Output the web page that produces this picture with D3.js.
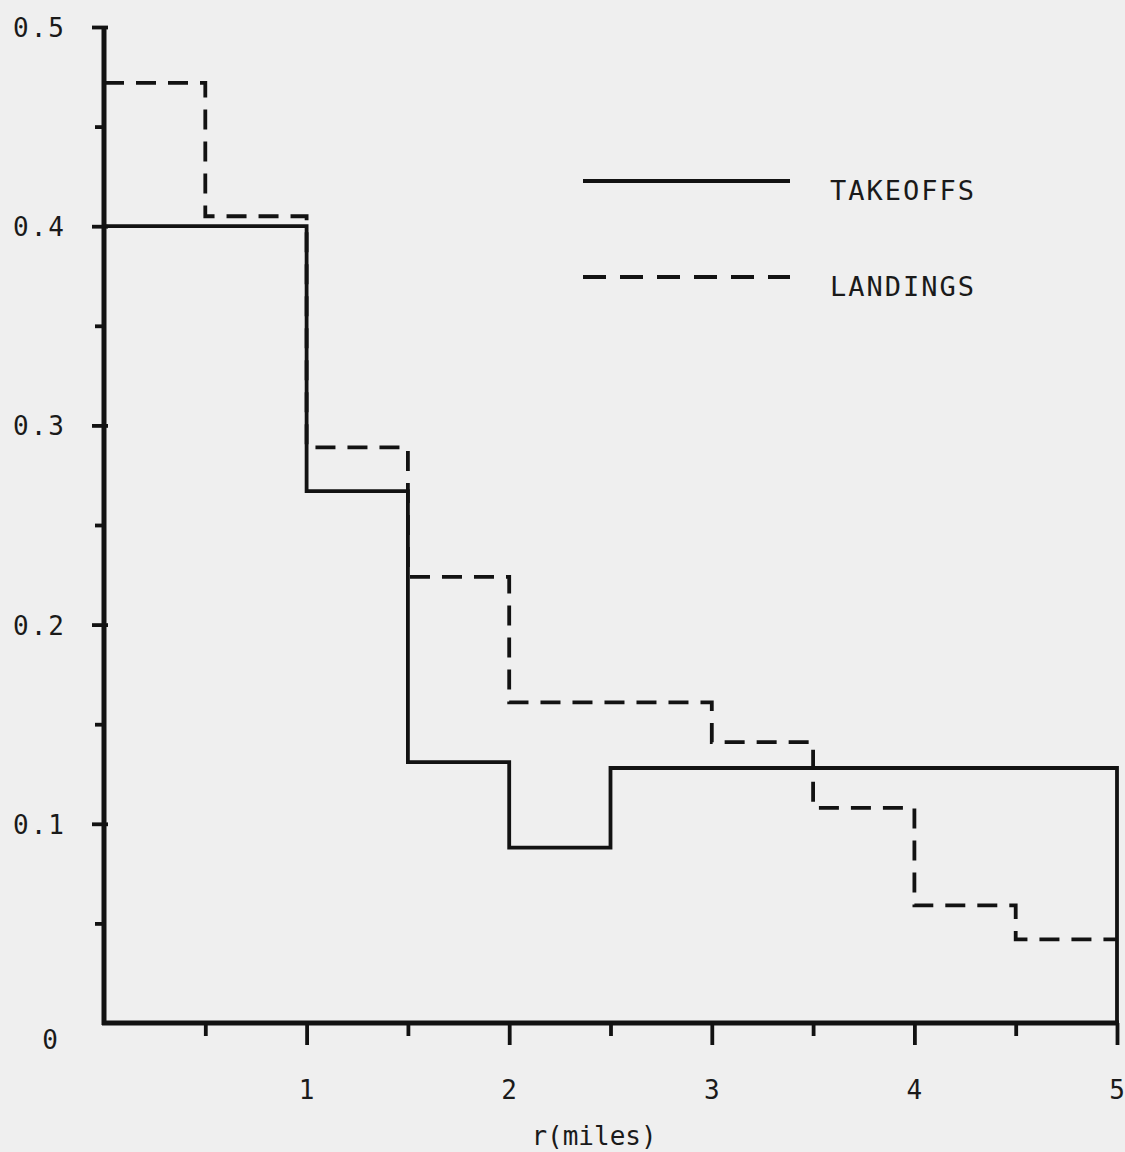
<!DOCTYPE html>
<html>
<head>
<meta charset="utf-8">
<script src="https://cdn.jsdelivr.net/npm/d3@7"></script>
<style>
  body { margin: 0; background: #efefef; }
  svg { display: block; }
  text { font-family: "DejaVu Sans Mono", monospace; fill: #1a1a1a; }
</style>
</head>
<body>
<div class="chart"></div>
<script>
// bins are 0.5 mile wide, value = fraction per bin
var binStarts = [0, 0.5, 1, 1.5, 2, 2.5, 3, 3.5, 4, 4.5]
var takeoffs = [0.400, 0.400, 0.267, 0.131, 0.088, 0.128, 0.128, 0.128, 0.128, 0.128]
var landings = [0.472, 0.405, 0.289, 0.224, 0.161, 0.161, 0.141, 0.108, 0.059, 0.042]
var xTicks = [1, 2, 3, 4, 5]
var xMinor = [0.5, 1.5, 2.5, 3.5, 4.5]
var yTicks = [0, 0.1, 0.2, 0.3, 0.4, 0.5]
var yMinor = [0.05, 0.15, 0.25, 0.35, 0.45]
var seriesNames = ['TAKEOFFS', 'LANDINGS']

var svgWidth = 1125
var svgHeight = 1152

var svg = d3.select('.chart')
    .append('svg')
    .attr('width', svgWidth)
    .attr('height', svgHeight)

svg.append('rect')
    .attr('width', svgWidth)
    .attr('height', svgHeight)
    .attr('fill', '#efefef')

var x = d3.scaleLinear().domain([0, 5]).range([104, 1117])
var y = d3.scaleLinear().domain([0, 0.5]).range([1023, 27])

var ink = '#121212'

// step lines
function stepPoints(vals, closeDown) {
    var pts = binStarts.map((b, i) => [b, vals[i]])
    pts.push([5, vals[vals.length - 1]])
    if (closeDown) pts.push([5, 0])
    return pts
}

var line = d3.line()
    .x(d => x(d[0]))
    .y(d => y(d[1]))
    .curve(d3.curveStepAfter)

svg.append('path')
    .attr('d', line(stepPoints(landings, false)))
    .attr('fill', 'none')
    .attr('stroke', ink)
    .attr('stroke-width', 3.8)
    .attr('stroke-dasharray', '20,12')

svg.append('path')
    .attr('d', line(stepPoints(takeoffs, true)))
    .attr('fill', 'none')
    .attr('stroke', ink)
    .attr('stroke-width', 3.8)

// Y axis
var yAxis = svg.append('g')
    .attr('transform', `translate(${x(0)}, 0)`)
    .call(d3.axisLeft(y).tickValues(yTicks.slice(1)).tickSize(12).tickFormat(''))
yAxis.select('.domain').remove()
yAxis.selectAll('.tick line').attr('x2', -12).attr('x1', 4)
svg.append('g')
    .attr('transform', `translate(${x(0)}, 0)`)
    .call(d3.axisLeft(y).tickValues(yMinor).tickSize(9).tickFormat(''))
    .select('.domain').remove()

// X axis
var xAxis = svg.append('g')
    .attr('transform', `translate(0, ${y(0)})`)
    .call(d3.axisBottom(x).tickValues(xTicks).tickSize(22).tickFormat(''))
xAxis.select('.domain').remove()
svg.append('g')
    .attr('transform', `translate(0, ${y(0)})`)
    .call(d3.axisBottom(x).tickValues(xMinor).tickSize(13).tickFormat(''))
    .select('.domain').remove()

svg.selectAll('.tick line').attr('stroke', ink).attr('stroke-width', 3.8)

// axis lines
svg.append('line')
    .attr('x1', x(0)).attr('x2', x(0))
    .attr('y1', y(0.5)).attr('y2', y(0) + 2)
    .attr('stroke', ink).attr('stroke-width', 5)
svg.append('line')
    .attr('x1', x(0) - 2).attr('x2', x(5) + 2)
    .attr('y1', y(0)).attr('y2', y(0))
    .attr('stroke', ink).attr('stroke-width', 5)

// tick labels
svg.selectAll('.ylab')
    .data(yTicks)
    .enter().append('text')
    .attr('class', 'ylab')
    .attr('x', d => d === 0 ? 60 : 66)
    .attr('y', d => d === 0 ? y(d) + 26 : y(d) + 10)
    .attr('text-anchor', 'end')
    .attr('font-size', 26)
    .attr('letter-spacing', 2)
    .text(d => d === 0 ? '0' : d3.format('.1f')(d))

svg.selectAll('.xlab')
    .data(xTicks)
    .enter().append('text')
    .attr('class', 'xlab')
    .attr('x', d => x(d))
    .attr('y', y(0) + 76)
    .attr('text-anchor', 'middle')
    .attr('font-size', 26)
    .text(d => d)

svg.append('text')
    .attr('x', 594)
    .attr('y', 1145)
    .attr('text-anchor', 'middle')
    .attr('font-size', 26)
    .text('r(miles)')

// legend
var legend = svg.append('g')
seriesNames.forEach((name, i) => {
    var ly = 181 + i * 96
    legend.append('line')
        .attr('x1', 583).attr('x2', 790)
        .attr('y1', ly).attr('y2', ly)
        .attr('stroke', ink)
        .attr('stroke-width', 3.8)
        .attr('stroke-dasharray', i === 1 ? '23,14' : null)
    legend.append('text')
        .attr('x', 830)
        .attr('y', ly + 19)
        .attr('font-size', 27)
        .attr('letter-spacing', 2)
        .text(name)
})
</script>
</body>
</html>
